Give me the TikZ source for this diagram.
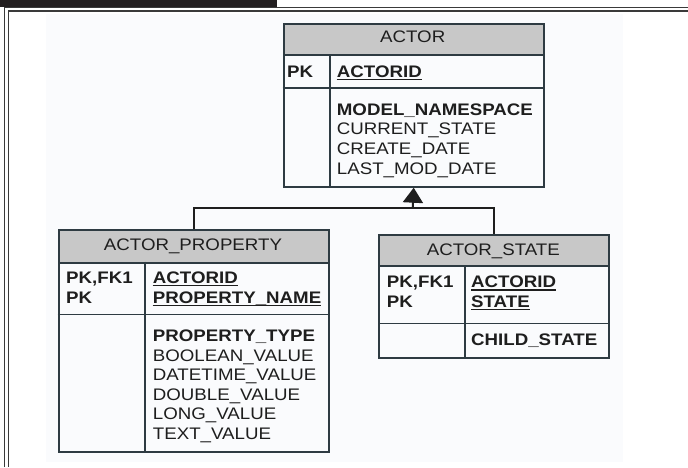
\documentclass[tikz,border=0pt]{standalone}
\usepackage{fontspec}
\setmainfont[FakeStretch=1.12]{Liberation Sans}
\usetikzlibrary{arrows.meta}

\definecolor{ink}{HTML}{1E1E1E}
\definecolor{edge}{HTML}{2E3B42}
\definecolor{headfill}{HTML}{C8C8C8}
\definecolor{framec}{HTML}{3A3A3A}
\definecolor{barc}{HTML}{231F20}
\definecolor{paper}{HTML}{FAFBFD}

\tikzset{
  tbl/.style={draw=edge, line width=2pt, anchor=north west, inner sep=0pt},
  hdr/.style={fill=headfill, draw=edge, line width=2pt, anchor=north west, inner sep=0pt},
  txt/.style={anchor=base west, inner sep=0pt, text=ink, font=\fontsize{16.7}{19.6}\selectfont},
  btxt/.style={txt, font=\fontsize{16.7}{19.6}\selectfont\bfseries},
  ttl/.style={anchor=base, inner sep=0pt, text=ink, font=\fontsize{16.7}{19.6}\selectfont},
  sep/.style={draw=edge, line width=1.6pt},
  uline/.style={draw=ink, line width=1.4pt},
  link/.style={draw=ink, line width=2pt},
  framel/.style={draw=framec, line width=1.5pt},
}

\begin{document}
\begin{tikzpicture}[x=1pt, y=-1pt]
  \useasboundingbox (0,0) rectangle (688,467);
  \fill[white] (0,0) rectangle (688,467);
  \fill[paper] (46,14) rectangle (623,462);

  % page frame
  \fill[barc] (0,0) rectangle (277,6.5);
  \draw[framel] (4.5,467) -- (4.5,7.7) -- (688,7.7);
  \draw[framel] (8.5,467) -- (8.5,10.8) -- (688,10.8);

  % ACTOR
  \node[tbl, minimum width=260pt, minimum height=163pt] (actor) at (282.7,22.7) {};
  \node[hdr, minimum width=260pt, minimum height=31.6pt] (actorhead) at (282.7,22.7) {};
  \node[ttl] (actortitle) at (412.7,42.6) {ACTOR};
  \draw[sep] (282.7,87.7) -- (542.7,87.7);
  \draw[sep] (330,54.3) -- (330,185.7);
  \node[btxt] (actorpk) at (287,77) {PK};
  \node[btxt] (actorid) at (336.7,77) {ACTORID};
  \draw[uline] ([yshift=-2.5pt]actorid.base west) -- ([yshift=-2.5pt]actorid.base east);
  \node[btxt] (actora1) at (336.7,115) {MODEL\_NAMESPACE};
  \node[txt] (actora2) at (336.7,134.7) {CURRENT\_STATE};
  \node[txt] (actora3) at (336.7,154.4) {CREATE\_DATE};
  \node[txt] (actora4) at (336.7,174.1) {LAST\_MOD\_DATE};

  % ACTOR_PROPERTY
  \node[tbl, minimum width=270.6pt, minimum height=221.7pt] (prop) at (57.7,229.3) {};
  \node[hdr, minimum width=270.6pt, minimum height=32.4pt] (prophead) at (57.7,229.3) {};
  \node[ttl] (proptitle) at (193,250) {ACTOR\_PROPERTY};
  \draw[sep] (57.7,314.3) -- (328.3,314.3);
  \draw[sep] (145,261.7) -- (145,451);
  \node[btxt] (propk1) at (66,283.2) {PK,FK1};
  \node[btxt] (propk2) at (66,303.2) {PK};
  \node[btxt] (propid) at (152.7,283.2) {ACTORID};
  \node[btxt] (propname) at (152.7,303.2) {PROPERTY\_NAME};
  \draw[uline] ([yshift=-2.5pt]propid.base west) -- ([yshift=-2.5pt]propid.base east);
  \draw[uline] ([yshift=-2.5pt]propname.base west) -- ([yshift=-2.5pt]propname.base east);
  \node[btxt] (propa1) at (152.7,341.6) {PROPERTY\_TYPE};
  \node[txt] (propa2) at (152.7,361.1) {BOOLEAN\_VALUE};
  \node[txt] (propa3) at (152.7,380.6) {DATETIME\_VALUE};
  \node[txt] (propa4) at (152.7,400.1) {DOUBLE\_VALUE};
  \node[txt] (propa5) at (152.7,419.6) {LONG\_VALUE};
  \node[txt] (propa6) at (152.7,439.1) {TEXT\_VALUE};

  % ACTOR_STATE
  \node[tbl, minimum width=230pt, minimum height=123.3pt] (state) at (378.3,234) {};
  \node[hdr, minimum width=230pt, minimum height=31pt] (statehead) at (378.3,234) {};
  \node[ttl] (statetitle) at (493.3,255.2) {ACTOR\_STATE};
  \draw[sep] (378.3,323.3) -- (608.3,323.3);
  \draw[sep] (465,265) -- (465,357.3);
  \node[btxt] (statek1) at (386.7,287.6) {PK,FK1};
  \node[btxt] (statek2) at (386.7,307) {PK};
  \node[btxt] (stateid) at (471,287.6) {ACTORID};
  \node[btxt] (statename) at (471,307) {STATE};
  \draw[uline] ([yshift=-2.5pt]stateid.base west) -- ([yshift=-2.5pt]stateid.base east);
  \draw[uline] ([yshift=-2.5pt]statename.base west) -- ([yshift=-2.5pt]statename.base east);
  \node[btxt] (statea1) at (471,345.2) {CHILD\_STATE};

  % inheritance connectors
  \coordinate (bus) at (412.7,207.7);
  \draw[link] (prop.north) |- (bus) -| (state.north);
  \draw[link, -{Triangle[width=20pt,length=15pt]}] (bus) -- (actor.south);
\end{tikzpicture}
\end{document}
